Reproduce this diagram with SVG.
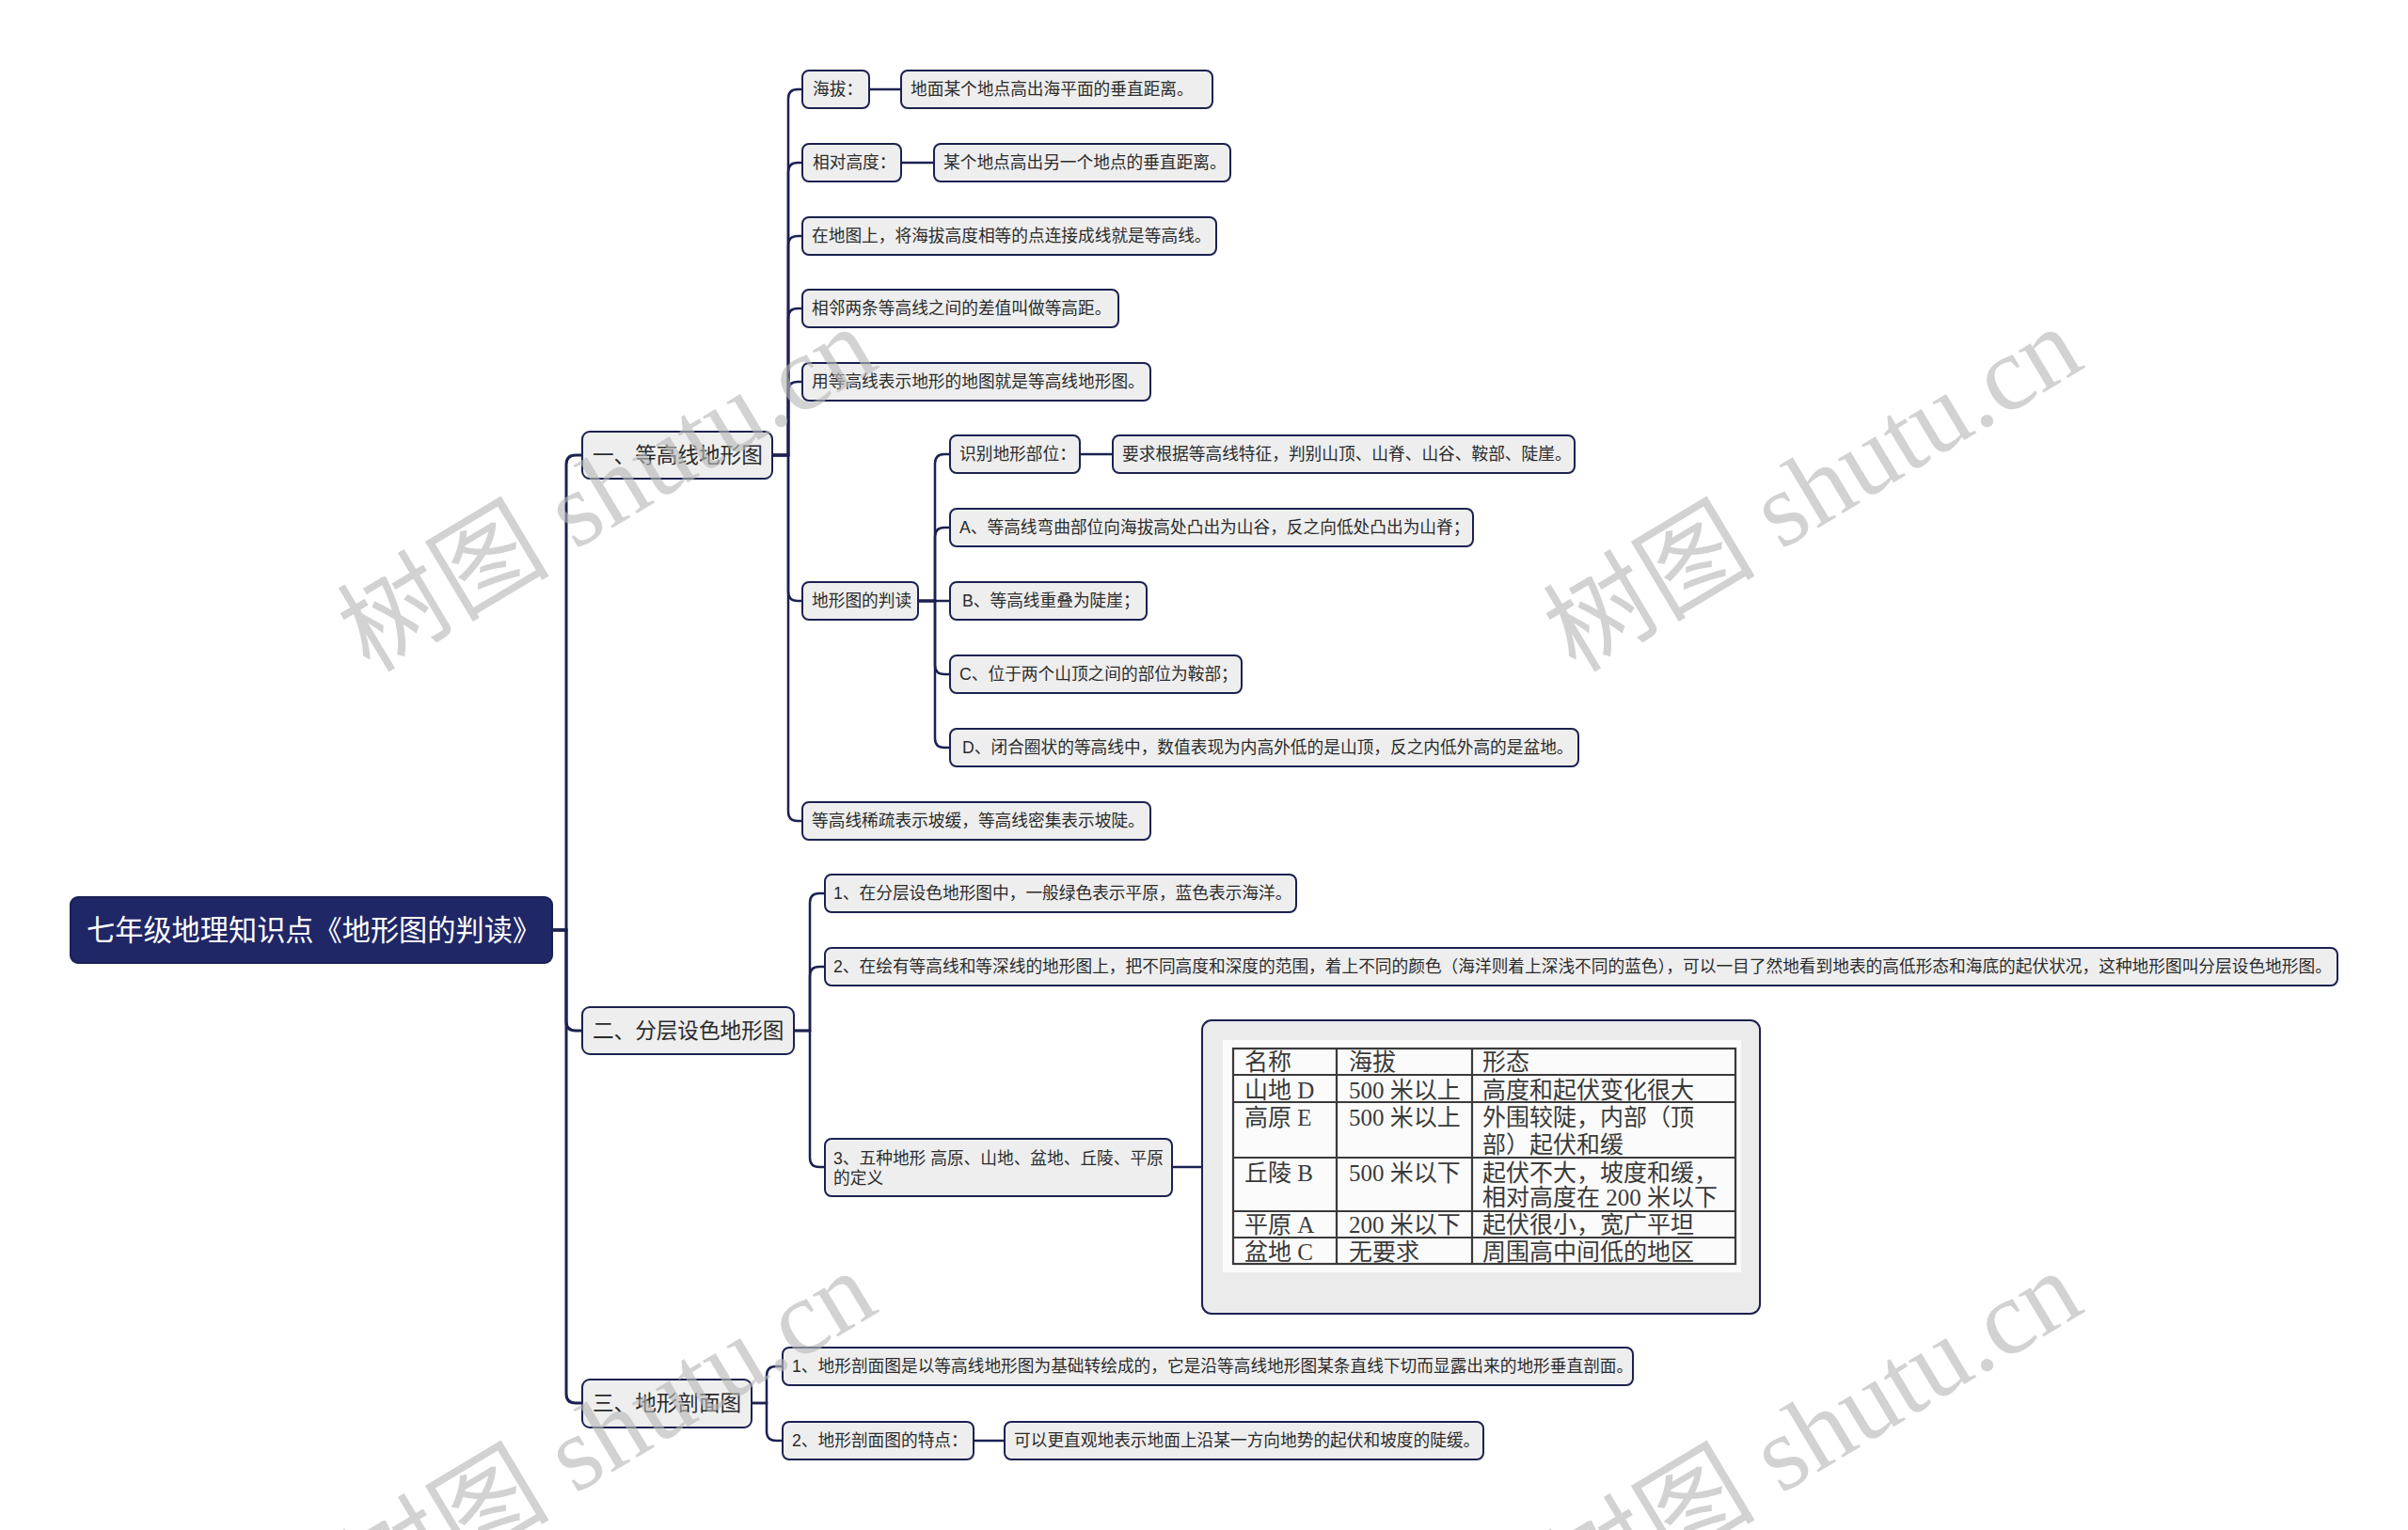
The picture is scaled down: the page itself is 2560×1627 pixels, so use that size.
<svg xmlns="http://www.w3.org/2000/svg" width="2560" height="1627" viewBox="0 0 2560 1627">
<style>
text{font-family:"Liberation Sans","Noto Sans CJK SC",sans-serif;dominant-baseline:central;}
.root rect{fill:#1f2766;stroke:#1a2058;stroke-width:2;}
.root text{fill:#ffffff;font-size:30.2px;}
.n1 rect,.n2 rect{fill:#eeeeee;stroke:#1c2150;stroke-width:2;}
.n1 text{fill:#2b2b2b;font-size:22.6px;}
.n2 text{fill:#2b2b2b;font-size:17.7px;}
.img>rect.frame{fill:#ebebeb;stroke:#1c2150;stroke-width:2;}
.tbl text{font-family:"Liberation Serif","Noto Sans CJK SC",serif;font-size:25px;fill:#3a3a3a;}
.tbl line,.tbl rect.grid{stroke:#3a3a3a;stroke-width:2.2;fill:none;}
.conn path{fill:none;stroke:#1c2150;stroke-width:2.5;}
.conn path.trunk{stroke-width:3;}
.wm text{font-family:"Liberation Serif","Noto Sans CJK SC",serif;font-size:113px;fill:#b8b8b8;opacity:0.62;text-anchor:middle;}
</style>

<g class="conn" id="connectors">
  <path class="trunk" d="M587,989 H602 V494 Q602,484 612,484 H619"/>
  <path class="trunk" d="M587,989 H602 V1086 Q602,1096 612,1096 H619"/>
  <path class="trunk" d="M587,989 H602 V1482 Q602,1492 612,1492 H619"/>

  <path d="M821,484 H838 V105 Q838,95 848,95 H853"/>
  <path d="M821,484 H838 V183 Q838,173 848,173 H853"/>
  <path d="M821,484 H838 V261 Q838,251 848,251 H853"/>
  <path d="M821,484 H838 V338 Q838,328 848,328 H853"/>
  <path d="M821,484 H838 V416 Q838,406 848,406 H853"/>
  <path d="M821,484 H838 V629 Q838,639 848,639 H853"/>
  <path d="M821,484 H838 V863 Q838,873 848,873 H853"/>

  <path d="M924,95 H958"/>
  <path d="M958,173 H993"/>

  <path d="M976,639 H994 V493 Q994,483 1004,483 H1010"/>
  <path d="M976,639 H994 V571 Q994,561 1004,561 H1010"/>
  <path d="M976,639 H1010"/>
  <path d="M976,639 H994 V707 Q994,717 1004,717 H1010"/>
  <path d="M976,639 H994 V785 Q994,795 1004,795 H1010"/>
  <path d="M1148,483 H1183"/>

  <path d="M844,1096 H861 V960 Q861,950 871,950 H877"/>
  <path d="M844,1096 H861 V1038 Q861,1028 871,1028 H877"/>
  <path d="M844,1096 H861 V1231 Q861,1241 871,1241 H877"/>
  <path d="M1246,1241 H1278"/>

  <path d="M799,1492 H815 V1463 Q815,1453 825,1453 H832"/>
  <path d="M799,1492 H815 V1522 Q815,1532 825,1532 H832"/>
  <path d="M1035,1532 H1068"/>
</g>

<g class="root" id="root">
  <rect x="75" y="954" width="512" height="70" rx="8"/>
  <text x="92" y="989">七年级地理知识点《地形图的判读》</text>
</g>

<g class="n1" id="n-dgx">
  <rect x="619" y="459" width="202" height="50" rx="8"/>
  <text x="630" y="484">一、等高线地形图</text>
</g>
<g class="n1" id="n-fcsd">
  <rect x="619" y="1071" width="225" height="50" rx="8"/>
  <text x="630" y="1096">二、分层设色地形图</text>
</g>
<g class="n1" id="n-pmt">
  <rect x="619" y="1467" width="180" height="51" rx="8"/>
  <text x="630" y="1492">三、地形剖面图</text>
</g>

<g class="n2" id="n-hb">
  <rect x="853" y="75" width="71" height="40" rx="7"/>
  <text x="864" y="95">海拔：</text>
</g>
<g class="n2" id="n-hb-def">
  <rect x="958" y="75" width="331" height="40" rx="7"/>
  <text x="968" y="95">地面某个地点高出海平面的垂直距离。</text>
</g>
<g class="n2" id="n-xdgd">
  <rect x="853" y="153" width="105" height="40" rx="7"/>
  <text x="864" y="173">相对高度：</text>
</g>
<g class="n2" id="n-xdgd-def">
  <rect x="993" y="153" width="315" height="40" rx="7"/>
  <text x="1003" y="173">某个地点高出另一个地点的垂直距离。</text>
</g>
<g class="n2" id="n-dgx-def">
  <rect x="853" y="231" width="440" height="40" rx="7"/>
  <text x="863" y="251">在地图上，将海拔高度相等的点连接成线就是等高线。</text>
</g>
<g class="n2" id="n-dgj">
  <rect x="853" y="308" width="336" height="40" rx="7"/>
  <text x="863" y="328">相邻两条等高线之间的差值叫做等高距。</text>
</g>
<g class="n2" id="n-dgxdxt">
  <rect x="853" y="386" width="370" height="40" rx="7"/>
  <text x="863" y="406">用等高线表示地形的地图就是等高线地形图。</text>
</g>
<g class="n2" id="n-pd">
  <rect x="853" y="619" width="123" height="40" rx="7"/>
  <text x="863" y="639">地形图的判读</text>
</g>
<g class="n2" id="n-xs">
  <rect x="853" y="853" width="370" height="40" rx="7"/>
  <text x="863" y="873">等高线稀疏表示坡缓，等高线密集表示坡陡。</text>
</g>

<g class="n2" id="n-sb">
  <rect x="1010" y="463" width="138" height="40" rx="7"/>
  <text x="1020" y="483">识别地形部位：</text>
</g>
<g class="n2" id="n-sb-def">
  <rect x="1183" y="463" width="491" height="40" rx="7"/>
  <text x="1193" y="483">要求根据等高线特征，判别山顶、山脊、山谷、鞍部、陡崖。</text>
</g>
<g class="n2" id="n-a">
  <rect x="1010" y="541" width="556" height="40" rx="7"/>
  <text x="1020" y="561">A、等高线弯曲部位向海拔高处凸出为山谷，反之向低处凸出为山脊；</text>
</g>
<g class="n2" id="n-b">
  <rect x="1010" y="619" width="209" height="40" rx="7"/>
  <text x="1023" y="639">B、等高线重叠为陡崖；</text>
</g>
<g class="n2" id="n-c">
  <rect x="1010" y="697" width="310" height="40" rx="7"/>
  <text x="1020" y="717">C、位于两个山顶之间的部位为鞍部；</text>
</g>
<g class="n2" id="n-d">
  <rect x="1010" y="775" width="668" height="40" rx="7"/>
  <text x="1023" y="795">D、闭合圈状的等高线中，数值表现为内高外低的是山顶，反之内低外高的是盆地。</text>
</g>

<g class="n2" id="n-f1">
  <rect x="877" y="930" width="501" height="40" rx="7"/>
  <text x="886" y="950">1、在分层设色地形图中，一般绿色表示平原，蓝色表示海洋。</text>
</g>
<g class="n2" id="n-f2">
  <rect x="877" y="1008" width="1608" height="40" rx="7"/>
  <text x="886" y="1028">2、在绘有等高线和等深线的地形图上，把不同高度和深度的范围，着上不同的颜色（海洋则着上深浅不同的蓝色），可以一目了然地看到地表的高低形态和海底的起伏状况，这种地形图叫分层设色地形图。</text>
</g>
<g class="n2" id="n-f3">
  <rect x="877" y="1211" width="369" height="61" rx="7"/>
  <text x="886" y="1232">3、五种地形 高原、山地、盆地、丘陵、平原</text>
  <text x="886" y="1253">的定义</text>
</g>

<g class="img" id="n-table">
  <rect class="frame" x="1278" y="1085" width="593" height="312" rx="10"/>
  <rect x="1300" y="1106" width="551" height="247" fill="#fbfbfb"/>
  <g class="tbl">
    <rect class="grid" x="1311" y="1115" width="534" height="229"/>
    <line x1="1421" y1="1115" x2="1421" y2="1344"/>
    <line x1="1565" y1="1115" x2="1565" y2="1344"/>
    <line x1="1311" y1="1143" x2="1845" y2="1143"/>
    <line x1="1311" y1="1172" x2="1845" y2="1172"/>
    <line x1="1311" y1="1231" x2="1845" y2="1231"/>
    <line x1="1311" y1="1288" x2="1845" y2="1288"/>
    <line x1="1311" y1="1316" x2="1845" y2="1316"/>
    <text x="1323" y="1129">名称</text>
    <text x="1434" y="1129">海拔</text>
    <text x="1576" y="1129">形态</text>
    <text x="1323" y="1159">山地 D</text>
    <text x="1434" y="1159">500 米以上</text>
    <text x="1576" y="1159">高度和起伏变化很大</text>
    <text x="1323" y="1188">高原 E</text>
    <text x="1434" y="1188">500 米以上</text>
    <text x="1576" y="1188">外围较陡，内部（顶</text>
    <text x="1576" y="1217">部）起伏和缓</text>
    <text x="1323" y="1247">丘陵 B</text>
    <text x="1434" y="1247">500 米以下</text>
    <text x="1576" y="1247">起伏不大，坡度和缓，</text>
    <text x="1576" y="1273">相对高度在 200 米以下</text>
    <text x="1323" y="1302">平原 A</text>
    <text x="1434" y="1302">200 米以下</text>
    <text x="1576" y="1302">起伏很小，宽广平坦</text>
    <text x="1323" y="1331">盆地 C</text>
    <text x="1434" y="1331">无要求</text>
    <text x="1576" y="1331">周围高中间低的地区</text>
  </g>
</g>

<g class="n2" id="n-p1">
  <rect x="832" y="1433" width="904" height="40" rx="7"/>
  <text x="842" y="1453">1、地形剖面图是以等高线地形图为基础转绘成的，它是沿等高线地形图某条直线下切而显露出来的地形垂直剖面。</text>
</g>
<g class="n2" id="n-p2">
  <rect x="832" y="1512" width="203" height="40" rx="7"/>
  <text x="842" y="1532">2、地形剖面图的特点：</text>
</g>
<g class="n2" id="n-p2-def">
  <rect x="1068" y="1512" width="509" height="40" rx="7"/>
  <text x="1078" y="1532">可以更直观地表示地面上沿某一方向地势的起伏和坡度的陡缓。</text>
</g>

<g class="wm" id="watermarks">
  <text transform="translate(645,520) rotate(-31)">树图 shutu.cn</text>
  <text transform="translate(1927,520) rotate(-31)">树图 shutu.cn</text>
  <text transform="translate(645,1524) rotate(-31)">树图 shutu.cn</text>
  <text transform="translate(1927,1524) rotate(-31)">树图 shutu.cn</text>
</g>
</svg>
